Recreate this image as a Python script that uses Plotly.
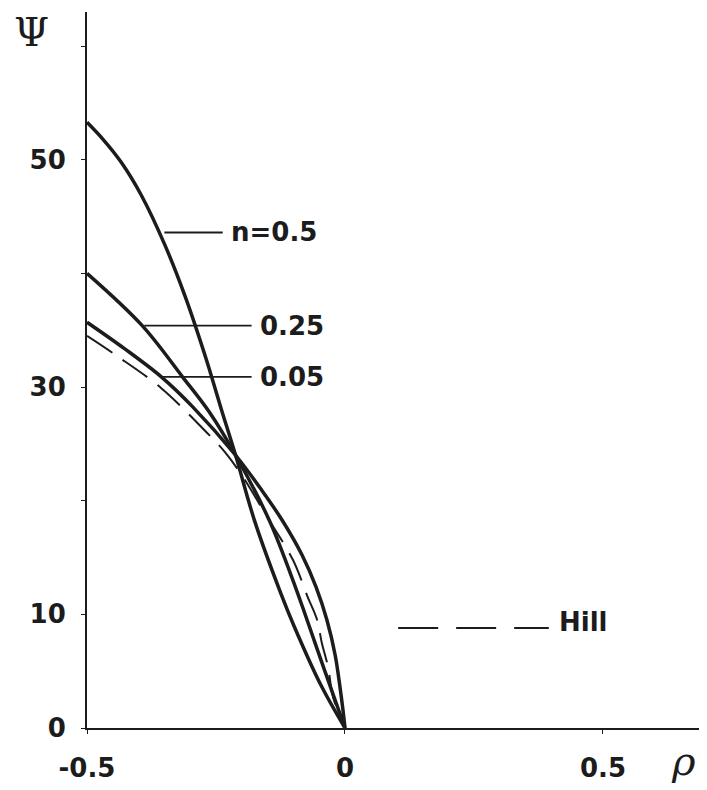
import plotly.graph_objects as go

# ---- data ----
rho_n050 = [-0.5, -0.469, -0.434, -0.395, -0.35, -0.31, -0.27, -0.24, -0.212, -0.175, -0.124, -0.099, -0.047, 0.0]
psi_n050 = [53.3, 51.8, 49.8, 46.9, 42.6, 38.0, 32.6, 28.1, 24.0, 18.2, 11.8, 9.0, 3.8, 0.0]

rho_n025 = [-0.5, -0.393, -0.315, -0.263, -0.212, -0.147, -0.105, -0.078, -0.039, 0.0]
psi_n025 = [40.0, 35.4, 30.9, 27.8, 24.0, 18.3, 13.5, 10.1, 5.0, 0.0]

rho_n005 = [-0.5, -0.428, -0.356, -0.296, -0.212, -0.161, -0.122, -0.083, -0.056, -0.035, -0.019, -0.0097, -0.004, 0.0]
psi_n005 = [35.7, 33.4, 30.9, 28.3, 24.0, 20.9, 18.3, 15.2, 12.4, 9.5, 6.4, 3.6, 1.6, 0.0]

rho_hill = [-0.5, -0.444, -0.356, -0.268, -0.233, -0.198, -0.150, -0.101, -0.072, -0.054, -0.045, -0.033, -0.023, 0.0]
psi_hill = [34.5, 32.8, 29.9, 26.0, 24.3, 22.1, 18.5, 14.8, 11.5, 9.5, 7.5, 5.4, 2.7, 0.0]

y_tickvals = [0, 10, 20, 30, 40, 50, 60]
y_ticktext = ["0", "10", "", "30", "", "50", ""]
x_tickvals = [-0.5, 0, 0.5]
x_ticktext = ["-0.5", "0", "0.5"]

# curve labels: (text, leader start x, leader end x, y)
labels = [
    ("n=0.5", -0.350, -0.237, 43.6),
    ("0.25", -0.389, -0.181, 35.4),
    ("0.05", -0.354, -0.181, 30.9),
]
hill_label = ("Hill", 0.103, 0.395, 8.8)

INK = "#1c1c1c"
FONT = dict(family="DejaVu Sans", size=26, color=INK, weight="bold")

fig = go.Figure()
for xs, ys in [(rho_n050, psi_n050), (rho_n025, psi_n025), (rho_n005, psi_n005)]:
    fig.add_trace(go.Scatter(x=xs, y=ys, mode="lines",
                             line=dict(color=INK, width=3.5, shape="spline", smoothing=1.0),
                             hoverinfo="skip", showlegend=False))
fig.add_trace(go.Scatter(x=rho_hill, y=psi_hill, mode="lines",
                         line=dict(color=INK, width=2, dash="30px,13px", shape="spline", smoothing=1.0),
                         hoverinfo="skip", showlegend=False))

for text, x0, x1, y in labels:
    fig.add_shape(type="line", x0=x0, x1=x1, y0=y, y1=y, xref="x", yref="y",
                  line=dict(color=INK, width=1.8))
    fig.add_annotation(x=x1 + 0.013, y=y, xref="x", yref="y", text=text, showarrow=False,
                       xanchor="left", yanchor="middle", font=FONT)

text, x0, x1, y = hill_label
fig.add_shape(type="line", x0=x0, x1=x1, y0=y, y1=y, xref="x", yref="y",
              line=dict(color=INK, width=1.8, dash="40px,18px"))
fig.add_annotation(x=x1 + 0.015, y=y + 0.5, xref="x", yref="y", text=text, showarrow=False,
                   xanchor="left", yanchor="middle", font=FONT)

fig.add_annotation(x=-0.0903, y=0.972, xref="paper", yref="paper", text="Ψ", showarrow=False,
                   xanchor="center", yanchor="middle",
                   font=dict(family="DejaVu Serif", size=40, color=INK))
fig.add_annotation(x=0.962, y=-0.046, xref="paper", yref="paper", text="ρ", showarrow=False,
                   xanchor="center", yanchor="middle",
                   font=dict(family="DejaVu Serif", size=40, color=INK, style="italic"))

fig.update_xaxes(range=[-0.5, 0.7016], showgrid=False, zeroline=False,
                 showline=True, linecolor=INK, linewidth=2,
                 tickvals=x_tickvals, ticktext=x_ticktext, ticks="outside", ticklen=4,
                 tickcolor=INK, tickfont=FONT, ticklabelstandoff=12)
fig.update_yaxes(range=[0, 63], showgrid=False, zeroline=False,
                 showline=True, linecolor=INK, linewidth=2,
                 tickvals=y_tickvals, ticktext=y_ticktext, ticks="outside", ticklen=4,
                 tickcolor=INK, tickfont=FONT, ticklabelstandoff=10)

# page body has an 8px margin, so the figure is sized to fit the 707x790 window
fig.update_layout(width=699, height=782, margin=dict(l=79, r=0, t=4, b=62),
                  paper_bgcolor="white", plot_bgcolor="white", showlegend=False)

fig.write_html("out.html")
